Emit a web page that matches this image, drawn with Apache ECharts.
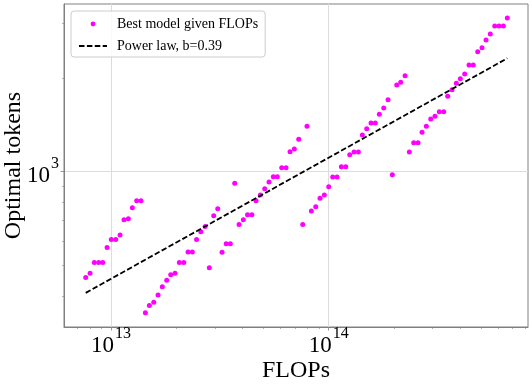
<!DOCTYPE html>
<html><head><meta charset="utf-8">
<script src="https://cdn.jsdelivr.net/npm/echarts@6/dist/echarts.min.js"></script>
<style>html,body{margin:0;padding:0;background:#fff}#c{width:532px;height:385px}</style>
</head><body><div id="c"></div>
<script>
const flops = [
  7.65e12, 8.01e12, 8.38e12, 8.78e12, 9.16e12, 9.59e12, 1.003e13, 1.051e13, 1.100e13, 1.147e13,
  1.201e13, 1.253e13, 1.312e13, 1.373e13, 1.438e13, 1.500e13, 1.571e13, 1.644e13, 1.720e13, 1.803e13,
  1.880e13, 1.968e13, 2.060e13, 2.158e13, 2.258e13, 2.363e13, 2.471e13, 2.585e13, 2.708e13, 2.828e13,
  2.963e13, 3.091e13, 3.235e13, 3.381e13, 3.532e13, 3.700e13, 3.873e13, 4.053e13, 4.236e13, 4.434e13,
  4.636e13, 4.851e13, 5.082e13, 5.318e13, 5.565e13, 5.805e13, 6.082e13, 6.366e13, 6.640e13, 6.950e13,
  7.281e13, 7.596e13, 7.948e13, 8.321e13, 8.716e13, 9.120e13, 9.546e13, 1.000e14, 1.043e14, 1.092e14,
  1.143e14, 1.197e14, 1.249e14, 1.307e14, 1.368e14, 1.427e14, 1.495e14, 1.564e14, 1.637e14, 1.708e14,
  1.789e14, 1.873e14, 1.960e14, 2.054e14, 2.142e14, 2.242e14, 2.346e14, 2.457e14, 2.572e14, 2.683e14,
  2.808e14, 2.941e14, 3.078e14, 3.221e14, 3.374e14, 3.520e14, 3.685e14, 3.856e14, 4.023e14, 4.214e14,
  4.410e14, 4.615e14, 4.835e14, 5.060e14, 5.279e14, 5.524e14, 5.788e14, 6.057e14, 6.339e14, 6.613e14
];
const tokens = [
  458, 473, 512, 512, 512, 572, 607, 607, 627, 702,
  707, 767, 807, 807, 353, 373, 382, 403, 428, 449,
  468, 473, 512, 512, 553, 553, 607, 642, 668, 492,
  723, 761, 552, 588, 588, 918, 678, 702, 728, 728,
  807, 842, 882, 927, 964, 964, 1030, 1030, 1159, 1182,
  1270, 678, 1398, 748, 772, 822, 842, 895, 962, 962,
  1038, 1038, 1134, 1157, 1157, 1311, 1373, 1432, 1432, 1528,
  1600, 1701, 978, 1896, 1934, 2031, 1157, 1238, 1238, 1338,
  1398, 1475, 1505, 1557, 1557, 1745, 1831, 1920, 1987, 2056,
  2198, 2198, 2425, 2497, 2643, 2762, 2931, 2931, 2931, 3109
];
const fitFlops = [7.65e12, 6.61e14];
const fitTokens = [409, 2309];
const xRange = [6.08e12, 8.23e14];
const yRange = [318, 3447];
const xMajorTicks = [1e13, 1e14];
const xMinorTicks = [7e12, 8e12, 9e12, 2e13, 3e13, 4e13, 5e13, 6e13, 7e13, 8e13, 9e13,
                     2e14, 3e14, 4e14, 5e14, 6e14, 7e14, 8e14];
const yMajorTicks = [1e3];
const yMinorTicks = [400, 500, 600, 700, 800, 900, 2000, 3000];
const seriesNames = ['Best model given FLOPs', 'Power law, b=0.39'];
const axisNames = ['FLOPs', 'Optimal tokens'];

const FONT = "'Liberation Serif', 'Times New Roman', serif";
const FRAME = '#808080';

function expLabel(v) {
  const e = Math.round(Math.log10(v));
  return '{b|10}{s|' + e + '}';
}
const rich = {
  b: { fontFamily: FONT, fontSize: 23, color: '#000', lineHeight: 31, verticalAlign: 'bottom' },
  s: { fontFamily: FONT, fontSize: 16, color: '#000', lineHeight: 16, verticalAlign: 'top', padding: [0, 0, 0, 1] }
};

const chart = echarts.init(document.getElementById('c'), null, { renderer: 'canvas' });

function majorAxis(range, ticks, name, isX) {
  return {
    type: 'log', logBase: 10, min: range[0], max: range[1],
    position: isX ? 'bottom' : 'left',
    name: name, nameLocation: 'middle', nameGap: isX ? 32 : 38, nameMoveOverlap: false,
    nameTextStyle: { fontFamily: FONT, fontSize: 24, color: '#000' },
    axisLine: { show: true, lineStyle: { color: FRAME, width: 1 } },
    axisTick: { show: true, customValues: ticks, length: 3.5, lineStyle: { color: FRAME, width: 0.8 } },
    axisLabel: { show: true, customValues: ticks, formatter: expLabel, rich: rich, margin: isX ? -1 : 5 },
    splitLine: { show: true, lineStyle: { color: '#dcdcdc', width: 1 } },
    minorTick: { show: false }, minorSplitLine: { show: false }
  };
}
function minorAxis(range, ticks, isX) {
  return {
    type: 'log', logBase: 10, min: range[0], max: range[1],
    position: isX ? 'bottom' : 'left',
    axisLine: { show: false },
    axisTick: { show: true, customValues: ticks, length: 2, lineStyle: { color: FRAME, width: 0.6 } },
    axisLabel: { show: false },
    splitLine: { show: false }
  };
}

chart.setOption({
  animation: false,
  backgroundColor: '#fff',
  grid: { left: 64, right: 4, top: 4, bottom: 58, containLabel: false, outerBoundsMode: 'none',
          show: true, borderColor: FRAME, borderWidth: 1, backgroundColor: 'transparent' },
  xAxis: [majorAxis(xRange, xMajorTicks, axisNames[0], true), minorAxis(xRange, xMinorTicks, true)],
  yAxis: [majorAxis(yRange, yMajorTicks, axisNames[1], false), minorAxis(yRange, yMinorTicks, false)],
  legend: {
    orient: 'vertical', left: 71, top: 11,
    padding: [6, 7, 4, 7],
    itemWidth: 28, itemHeight: 6, itemGap: 8,
    backgroundColor: 'rgba(255,255,255,0.85)', borderColor: '#cccccc', borderWidth: 1, borderRadius: 3,
    textStyle: { fontFamily: FONT, fontSize: 14, color: '#000', padding: [0, 0, 0, 5] },
    data: [{ name: seriesNames[0] }, { name: seriesNames[1], itemStyle: { opacity: 0 } }]
  },
  series: [
    {
      name: seriesNames[0], type: 'line', xAxisIndex: 0, yAxisIndex: 0,
      data: flops.map((x, i) => [x, tokens[i]]),
      symbol: 'circle', symbolSize: 5, showSymbol: true, showAllSymbol: true,
      lineStyle: { width: 0, opacity: 0 },
      itemStyle: { color: '#ff00ff', borderWidth: 0 },
      emphasis: { disabled: true }, z: 2
    },
    {
      name: seriesNames[1], type: 'line', xAxisIndex: 0, yAxisIndex: 0,
      data: fitFlops.map((x, i) => [x, fitTokens[i]]),
      symbol: 'none',
      lineStyle: { color: '#000', width: 1.8, type: [5.5, 2.4] },
      itemStyle: { color: '#000' },
      emphasis: { disabled: true }, z: 3
    }
  ]
});
</script>
</body></html>
